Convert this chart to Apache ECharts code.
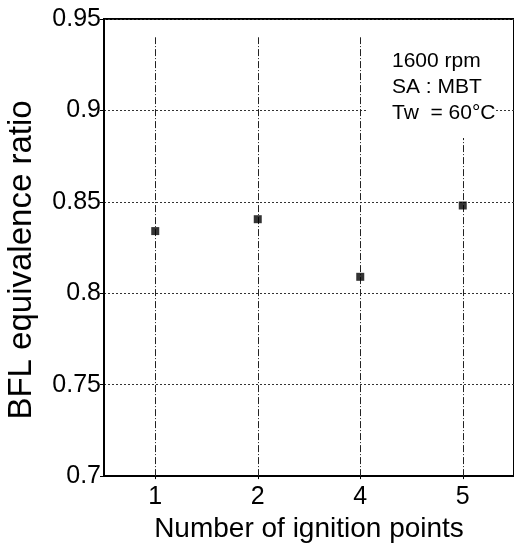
<!DOCTYPE html>
<html>
<head>
<meta charset="utf-8">
<script src="https://cdn.jsdelivr.net/npm/echarts@6/dist/echarts.min.js"></script>
<style>html,body{margin:0;padding:0;background:#fff;}#c{width:514px;height:548px;}</style>
</head>
<body>
<div id="c"></div>
<script>
var categories = ['1', '2', '4', '5'];
var bflRatio = [0.834, 0.8405, 0.809, 0.848];
var yTicks = [0.7, 0.75, 0.8, 0.85, 0.9, 0.95];
var annotation = ['1600 rpm', 'SA : MBT', 'Tw  = 60\u00b0C'];

var FONT = '"Liberation Sans", Arial, sans-serif';
var chart = echarts.init(document.getElementById('c'));
chart.setOption({
  animation: false,
  backgroundColor: '#fff',
  grid: { left: 104, right: 0, top: 19, bottom: 71, show: true, borderColor: '#000', borderWidth: 2, backgroundColor: 'transparent' },
  xAxis: {
    type: 'category',
    data: categories,
    boundaryGap: true,
    axisLine: { lineStyle: { color: '#000', width: 2 } },
    axisTick: { show: true, alignWithLabel: true, length: 3, lineStyle: { color: '#000' } },
    axisLabel: { color: '#000', fontSize: 25, fontFamily: FONT, margin: 9 },
    splitLine: { show: false },
    name: 'Number of ignition points',
    nameLocation: 'middle',
    nameGap: 33,
    nameTextStyle: { color: '#000', fontSize: 28, fontFamily: FONT }
  },
  yAxis: {
    type: 'value',
    min: yTicks[0],
    max: yTicks[yTicks.length - 1],
    interval: 0.05,
    axisLine: { show: true, lineStyle: { color: '#000', width: 2 } },
    axisTick: { show: true, length: 4, lineStyle: { color: '#000' } },
    axisLabel: { color: '#000', fontSize: 25, fontFamily: FONT, margin: 3,
      formatter: function (v) { return String(+v.toFixed(2)); } },
    splitLine: { show: true, lineStyle: { color: '#333', type: [2, 2], width: 1 } }
  },
  graphic: [
    { type: 'rect', z: 50, shape: { x: 368, y: 21, width: 128, height: 117 }, style: { fill: '#fff' } },
    { type: 'text', z: 51, x: 392, y: 48, style: { text: annotation.join('\n'), font: '21px ' + FONT, fill: '#000', lineHeight: 26 } },
    { type: 'text', z: 51, x: 22, y: 260, rotation: Math.PI / 2,
      style: { text: 'BFL equivalence ratio', font: '33px ' + FONT, fill: '#000', align: 'center', verticalAlign: 'middle' } }
  ],
  series: [{
    type: 'scatter',
    data: bflRatio,
    symbol: 'rect',
    symbolSize: 8,
    itemStyle: { color: '#000' },
    z: 60,
    markLine: {
      silent: true,
      symbol: 'none',
      label: { show: false },
      lineStyle: { color: '#222', type: [7, 2, 1, 2], width: 1 },
      data: categories.map(function (c) {
        return [{ coord: [c, 0.7] }, { coord: [c, 0.94] }];
      })
    }
  }]
});
</script>
</body>
</html>
